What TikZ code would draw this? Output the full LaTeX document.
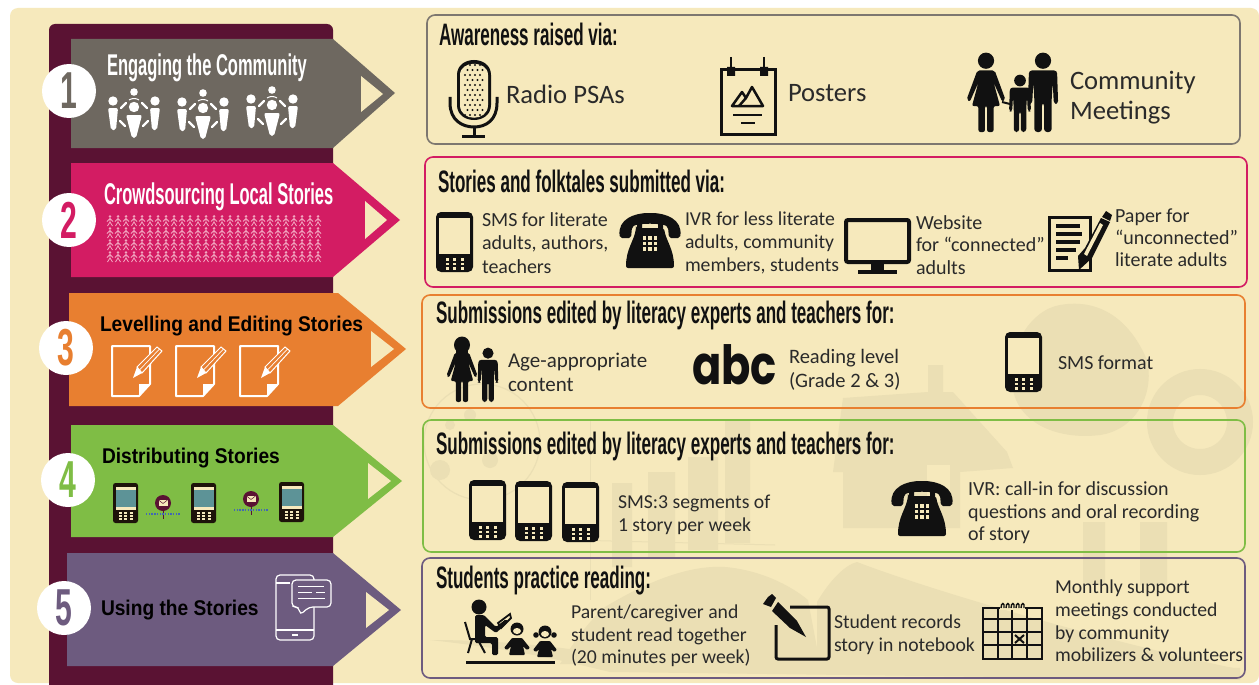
\documentclass[tikz,border=0pt]{standalone}
\usepackage{fontspec}
\setmainfont{Carlito}
\newfontfamily\headf[FakeStretch=0.55]{Liberation Sans}
\newfontfamily\numf[FakeStretch=0.58]{Liberation Sans}
\newfontfamily\titlef[FakeStretch=0.9]{Liberation Sans}
\newfontfamily\abcf[FakeStretch=0.8]{Poppins}
\definecolor{cream}{HTML}{F6E9BC}
\definecolor{wmark}{HTML}{EBDFB4}
\definecolor{band}{HTML}{5A1233}
\definecolor{cA}{HTML}{6E6860}
\definecolor{cB}{HTML}{D31C63}
\definecolor{cC}{HTML}{E87F30}
\definecolor{cD}{HTML}{7FBD45}
\definecolor{cE}{HTML}{6D5B7F}
\definecolor{pinkf}{HTML}{F2A6C0}
\definecolor{teal}{HTML}{5D9397}
\definecolor{ink}{HTML}{111111}
\definecolor{soft}{HTML}{2A2A2A}
\tikzset{
  x=1pt,y=-1pt,
  body/.style={anchor=west,inner sep=0pt,outer sep=0pt,align=left,text=soft},
  heading/.style={anchor=west,inner sep=0pt,outer sep=0pt,text=ink,font=\headf\bfseries\fontsize{31}{33}\selectfont},
  panel/.style={rounded corners=8pt,line width=1.6pt},
  numcircle/.style={circle,fill=white,minimum size=54pt,inner sep=0pt,font=\numf\bfseries\fontsize{52}{52}\selectfont},
  pics/mobile/.style={code={
    \fill[ink,rounded corners=5pt] (0,0) rectangle (37,60);
    \fill[cream] (2.7,6) rectangle (34.3,42);
    \foreach \i in {11,18.5,26}{\foreach \j in {47.5,52,56.5}{\fill[cream] (\i-1.5,\j-1.2) rectangle (\i+1.5,\j+1.2);}}
  }},
  pics/telephone/.style={code={
    \fill[ink,rounded corners=2pt] (0,25) .. controls (-3,6) and (15,0) .. (30,0) .. controls (45,0) and (63,6) .. (60,25) -- (49,25) -- (48,14) .. controls (42,10) and (18,10) .. (12,14) -- (11,25) -- cycle;
    \fill[ink] (17,9) rectangle (22,18) (38,9) rectangle (43,18);
    \fill[ink,rounded corners=2pt] (16,15) -- (44,15) .. controls (46,28) and (54,36) .. (54,55) -- (6,55) .. controls (6,36) and (14,28) .. (16,15) -- cycle;
    \foreach \i in {24.5,30,35.5}{\foreach \j in {25,30.5,36}{\fill[cream] (\i-1.7,\j-1.7) rectangle (\i+1.7,\j+1.7);}}
  }},
  pics/man/.style={code={
    \fill[ink] (0,-66) circle (7.5);
    \fill[ink,rounded corners=3pt] (-13,-57) -- (13,-57) -- (14,-26) -- (10,-26) -- (9,-46) -- (8,-30) -- (8,0) -- (1,0) -- (1,-27) -- (-1,-27) -- (-1,0) -- (-8,0) -- (-8,-30) -- (-9,-46) -- (-10,-26) -- (-14,-26) -- cycle;
  }},
  pics/woman/.style={code={
    \fill[ink] (0,-66) circle (7.5);
    \fill[ink,rounded corners=2pt] (-8,-57) -- (8,-57) -- (18,-30) -- (15,-28) -- (7,-46) -- (13,-24) -- (7,-24) -- (7,0) -- (1,0) -- (1,-24) -- (-1,-24) -- (-1,0) -- (-7,0) -- (-7,-24) -- (-13,-24) -- (-7,-46) -- (-15,-28) -- (-18,-30) -- cycle;
  }},
  pics/crowd/.style={code={
    \fill[white] (6,13) circle (4.7) (48,13) circle (4.7) (27,19) circle (5.2) (27,4) circle (3.8);
    \fill[white,rounded corners=2pt] (1,20) -- (11,20) -- (9,42) -- (4,42) -- cycle;
    \fill[white,rounded corners=2pt] (43,20) -- (53,20) -- (50,42) -- (45,42) -- cycle;
    \fill[white,rounded corners=2pt] (19,27) -- (35,27) -- (29,50) -- (25,50) -- cycle;
    \draw[white,line width=2.4pt,line cap=round] (14,20) -- (19,15) (40,20) -- (35,15) (13,33) -- (18,38) (41,33) -- (36,38);
    \draw[white,line width=1pt] (22,12) .. controls (25,10) and (29,10) .. (32,12);
  }},
  pics/docpen/.style={code={
    \draw[white,line width=2pt,line join=round] (0,0) -- (38,0) -- (38,38) -- (27,50) -- (0,50) -- cycle;
    \fill[white] (38,38) -- (27,38) -- (27,50) -- cycle;
    \fill[cC,draw=white,line width=1pt] (25,21) -- (45,1) -- (50,5) -- (30,27) -- cycle;
    \fill[white] (21,32) -- (25,21) -- (30,27) -- cycle;
    \draw[white,line width=.7pt] (27.5,24) -- (47.5,3);
  }},
  pics/minip/.style={code={
    \fill[black!85!brown,rounded corners=2.5pt] (0,0) rectangle (25,40);
    \fill[cream] (2.5,3.5) rectangle (22.5,6.5);
    \fill[teal] (2.5,6.5) rectangle (22.5,24);
    \fill[cream] (2.5,24) rectangle (22.5,27);
    \foreach \i in {7,12.5,18}{\foreach \j in {30,33,36}{\fill[cream] (\i-1.5,\j-.8) rectangle (\i+1.5,\j+.8);}}
  }},
  pics/pin/.style={code={
    \draw[band,line width=1pt] (0,0) -- (0,16);
    \fill[band] (0,0) circle (8);
    \fill[cream] (-4.5,-3) rectangle (4.5,3);
    \draw[band,line width=.5pt] (-4.5,-3) -- (0,.5) -- (4.5,-3);
    \draw[teal!70!blue,line width=1.4pt,dash pattern=on 1.4pt off 1.3pt] (-17,11) -- (17,11);
  }}
}
\begin{document}
\begin{tikzpicture}
\useasboundingbox (0,0) rectangle (1259,685);
\fill[white] (0,0) rectangle (1259,685);
\fill[cream,rounded corners=8pt] (10,8) rectangle (1259,683);

% watermark: globe, bars
\draw[wmark,line width=1.2pt] (482,442) circle (58);
\fill[wmark] (440,470) circle (10) (470,415) circle (6) (490,460) circle (8) (450,425) circle (5);
\fill[wmark] (612,483) rectangle (632,567) (648,472) rectangle (675,557) (688,457) rectangle (718,550) (725,420) rectangle (750,543);
\draw[wmark,line width=1pt] (570,540) -- (775,545);
\draw[wmark,line width=1pt] (590,420) -- (590,600);
% watermark: open book
\fill[wmark] (605,607) .. controls (650,580) and (690,565) .. (725,567) .. controls (760,570) and (790,585) .. (808,600) -- (820,664) -- (560,664) .. controls (575,640) and (590,620) .. (605,607) -- cycle;
\fill[wmark] (817,602) .. controls (830,580) and (845,565) .. (857,562) .. controls (930,590) and (1100,640) .. (1233,668) -- (817,668) -- cycle;
\fill[wmark] (430,640) .. controls (520,650) and (560,660) .. (610,672) -- (1240,680) -- (1240,668) .. controls (1000,660) and (800,660) .. (610,655) .. controls (550,645) and (490,640) .. (430,640) -- cycle;
% watermark: house
\fill[wmark] (928,392) -- (928,365) -- (943,365) -- (943,392) -- (953,392) -- (1007,452) -- (1013,468) -- (960,472) -- (960,528) -- (843,528) -- (843,472) -- (833,472) -- (843,398) -- cycle;
\fill[cream] (927,465) rectangle (950,502);
% watermark: tree crown, trunks, O
\fill[wmark] (1013,390) .. controls (1005,350) and (1030,310) .. (1060,305) .. controls (1100,298) and (1130,320) .. (1147,360) .. controls (1155,395) and (1135,430) .. (1100,435) .. controls (1060,440) and (1020,425) .. (1013,390) -- cycle;
\fill[wmark] (1083,522) rectangle (1105,585) (1140,522) rectangle (1167,585);
\draw[wmark,line width=26pt] (1200,422) circle (40);

% band
\fill[band,rounded corners=6pt] (49,24) -- (333,24) -- (333,700) -- (49,700) -- cycle;

% arrows
\fill[cA] (71,39) -- (333,39) -- (395,93) -- (333,148) -- (71,148) -- cycle;
\fill[cream] (361,76) -- (383,94) -- (361,112) -- cycle;
\fill[cB] (71,163) -- (333,163) -- (400,220) -- (333,277) -- (71,277) -- cycle;
\fill[cream] (365,201) -- (387,220) -- (365,239) -- cycle;
\fill[cC] (69,293) -- (338,293) -- (406,349) -- (338,406) -- (69,406) -- cycle;
\fill[cream] (371,331) -- (394,349) -- (371,367) -- cycle;
\fill[cD] (71,425) -- (333,425) -- (402,481) -- (333,537) -- (71,537) -- cycle;
\fill[cream] (368,463) -- (391,481) -- (368,499) -- cycle;
\fill[cE] (67,553) -- (333,553) -- (401,610) -- (333,666) -- (67,666) -- cycle;
\fill[cream] (366,592) -- (389,610) -- (366,628) -- cycle;

% number circles
\node[numcircle,text=cA] (n1) at (69,91) {1};
\node[numcircle,text=cB] (n2) at (69,220) {2};
\node[numcircle,text=cC] (n3) at (66,348) {3};
\node[numcircle,text=cD] (n4) at (68,480) {4};
\node[numcircle,text=cE] (n5) at (64,608) {5};

% arrow titles
\node[heading,text=white,font=\headf\bfseries\fontsize{30}{32}\selectfont] (a1) at (107,68) {Engaging the Community};
\node[heading,text=white,font=\headf\bfseries\fontsize{30}{32}\selectfont] (a2) at (104,197) {Crowdsourcing Local Stories};
\node[heading,text=black,font=\titlef\bfseries\fontsize{21.3}{23}\selectfont] (a3) at (100,326) {Levelling and Editing Stories};
\node[heading,text=black,font=\titlef\bfseries\fontsize{21.3}{23}\selectfont] (a4) at (102,458) {Distributing Stories};
\node[heading,text=black,font=\titlef\bfseries\fontsize{21.3}{23}\selectfont] (a5) at (101,610) {Using the Stories};

% arrow icons
\pic at (107,88) {crowd};
\pic at (176,89) {crowd};
\pic at (245,86) {crowd};
\foreach \r in {221,233,245,257}{
  \foreach \c in {0,...,26}{
    \pgfmathsetmacro{\xx}{110+8*\c}
    \fill[pinkf] (\xx,\r-4.6) circle (1.4);
    \draw[pinkf,line width=.8pt] (\xx,\r-3) -- (\xx,\r+1) -- (\xx-2.5,\r+5) (\xx,\r+1) -- (\xx+2.5,\r+5) (\xx-3,\r+.5) -- (\xx,\r-2.5) -- (\xx+3,\r+.5);
  }
}
\pic at (112,346) {docpen};
\pic at (176,346) {docpen};
\pic at (240,346) {docpen};
\pic at (113,483) {minip};
\pic at (191,483) {minip};
\pic at (279,482) {minip};
\pic at (163,503) {pin};
\pic at (251,499) {pin};

% tablet + chat (row 5)
\draw[white,line width=1.2pt,rounded corners=4pt] (276,575) rectangle (314,640);
\draw[white,line width=1.2pt] (276,583) -- (290,583) (276,630) -- (314,630) (292,635) -- (298,635);
\fill[cE,rounded corners=4pt] (292,580) rectangle (331,607);
\draw[white,line width=1.2pt,rounded corners=4pt] (299,607) -- (292,607) -- (292,580) -- (331,580) -- (331,607) -- (309,607) -- (300,615) -- cycle;
\draw[white,line width=1pt] (298,586) -- (324,586) (298,592) -- (312,592) (316,592) -- (325,592) (298,598) -- (325,598);

% panels
\draw[panel,draw=cA!90!white] (427,15) rectangle (1240,144);
\draw[panel,draw=cB] (425,157) rectangle (1247,287);
\draw[panel,draw=cC] (422,295) rectangle (1245,408);
\draw[panel,draw=cD] (423,420) rectangle (1245,552);
\draw[panel,draw=cE] (422,558) rectangle (1245,678);

% headings
\node[heading] (h1) at (439,34) {Awareness raised via:};
\node[heading] (h2) at (438,181) {Stories and folktales submitted via:};
\node[heading] (h3) at (436,315) {Submissions edited by literacy experts and teachers for:};
\node[heading] (h4) at (436,446) {Submissions edited by literacy experts and teachers for:};
\node[heading] (h5) at (436,581) {Students practice reading:};

% panel 1 text
\node[body,font=\fontsize{26.6}{30}\selectfont] (t1) at (506,94) {Radio PSAs};
\node[body,font=\fontsize{26.6}{30}\selectfont] (t2) at (788,93) {Posters};
\node[body,font=\fontsize{26.6}{30}\selectfont] (t3) at (1070,98) {Community\\Meetings};

% panel 2 text
\node[body,font=\fontsize{20}{23.5}\selectfont] (t4) at (482,243) {SMS for literate\\adults, authors,\\teachers};
\node[body,font=\fontsize{19.7}{23}\selectfont] (t5) at (685,243) {IVR for less literate\\adults, community\\members, students};
\node[body,font=\fontsize{20}{22.5}\selectfont] (t6) at (916,245) {Website\\for ``connected''\\adults};
\node[body,font=\fontsize{20}{22}\selectfont] (t7) at (1115,238) {Paper for\\``unconnected''\\literate adults};

% panel 3 text
\node[body,font=\fontsize{21}{24}\selectfont] (t8) at (508,372) {Age-appropriate\\content};
\node[body,font=\fontsize{20.5}{24}\selectfont] (t9) at (789,370) {Reading level\\(Grade 2 \& 3)};
\node[body,font=\fontsize{20}{24}\selectfont] (t10) at (1058,363) {SMS format};
\node[body,text=ink,font=\abcf\bfseries\fontsize{54}{56}\selectfont] (abc) at (692,365) {abc};

% panel 4 text
\node[body,font=\fontsize{19.7}{22.5}\selectfont] (t11) at (618,515) {SMS:3 segments of\\1 story per week};
\node[body,font=\fontsize{20}{22.5}\selectfont] (t12) at (968,513) {IVR: call-in for discussion\\questions and oral recording\\of story};

% panel 5 text
\node[body,font=\fontsize{19.7}{22.5}\selectfont] (t13) at (571,636) {Parent/caregiver and\\student read together\\(20 minutes per week)};
\node[body,font=\fontsize{19.7}{23}\selectfont] (t14) at (834,635) {Student records\\story in notebook};
\node[body,font=\fontsize{19.7}{22.7}\selectfont] (t15) at (1055,621) {Monthly support\\meetings conducted\\by community\\mobilizers \& volunteers};

% --- microphone
\fill[ink] (457,75) .. controls (457,55) and (491,55) .. (491,75) -- (491,105) .. controls (491,125) and (457,125) .. (457,105) -- cycle;
\fill[cream] (460,75) .. controls (460,60) and (488,60) .. (488,75) -- (488,105) .. controls (488,122) and (460,122) .. (460,105) -- cycle;
\foreach \j [count=\k] in {65,70,75,80,85,90,95,100,105,110,115}{
  \pgfmathsetmacro{\off}{mod(\k,2)==0 ? 2.5 : 0}
  \foreach \i in {465,470,...,483}{\fill[ink] (\i+\off,\j) circle (1.2);}
}
\draw[ink,line width=3pt] (450,97) -- (450,103) .. controls (450,120) and (462,127) .. (474,127) .. controls (486,127) and (497,120) .. (497,103) -- (497,97);
\draw[ink,line width=3pt] (474,127) -- (474,137);
\fill[ink] (462,135) rectangle (485,138);

% --- poster
\draw[ink,line width=3pt] (721.5,70) rectangle (775.5,134);
\draw[ink,line width=2.5pt] (731,57) -- (731,72) (764,57) -- (764,72);
\fill[ink] (727,67) rectangle (735,76) (760,67) rectangle (768,76);
\draw[ink,line width=2.5pt,line join=round] (732,106) -- (742,92) -- (746,98) -- (752,87) -- (763,106) -- cycle;
\draw[ink,line width=2.5pt] (746,98) -- (739,106);
\draw[ink,line width=2.5pt] (733,115) -- (762,115);
\draw[ink,line width=2.5pt] (741,123) -- (755,123);

% --- family
\pic[scale=1.08] at (986,132) {woman};
\pic[scale=.78] at (1020,132) {man};
\pic[scale=1.08] at (1043,132) {man};
\draw[ink,line width=2pt] (1002,102) -- (1010,104);

% --- panel 2 icons
\pic at (436,212) {mobile};
\pic at (620,213) {telephone};
\draw[ink,line width=4pt,rounded corners=2pt] (846,220) rectangle (909,262);
\fill[ink] (871,262) rectangle (884,270);
\fill[ink] (858,270) rectangle (897,274);
\draw[ink,line width=3pt] (1049.5,217) rectangle (1090,270);
\foreach \j/\w in {226/1080,234/1082,242/1080,250/1076,258/1068}{\draw[ink,line width=3.5pt] (1056,\j) -- (\w,\j);}
\fill[ink] (1078,256) -- (1079,270) -- (1092,258) -- (1110,222) -- (1101,218) -- (1085,248) -- cycle;
\fill[cream] (1084,254) -- (1087,256) -- (1103,225) -- (1100,223) -- cycle;
\fill[ink] (1102,217) -- (1106,211) -- (1112,215) -- (1110,221) -- cycle;

% --- panel 3 icons
\fill[ink] (462,345) ellipse (8 and 8.5);
\fill[ink] (456,345) rectangle (468,354);
\pic[scale=.87] at (462,402) {woman};
\pic[scale=.74] at (488,402) {man};
\pic at (1005,332) {mobile};

% --- panel 4 icons
\pic at (469,480) {mobile};
\pic at (515,481) {mobile};
\pic at (562,482) {mobile};
\pic at (892,481) {telephone};

% --- teacher + kids
\fill[ink] (479,607) circle (7.5);
\fill[ink,rounded corners=1.5pt] (475,615) -- (484,615) -- (496,627) -- (506,619) -- (508,622) -- (496,633) -- (485,625) -- (485,637) -- (498,637) -- (498,655) -- (492,655) -- (492,643) -- (475,643) -- cycle;
\draw[ink,line width=1.8pt] (498,623) -- (510,614) -- (511,618) -- (501,628) -- cycle;
\draw[ink,line width=2pt] (465,622) -- (470,639) -- (485,639) (472,639) -- (468,653) (478,640) -- (485,653);
\fill[ink] (466,660.5) rectangle (555,663.5);
% kid 1
\fill[ink] (517,629) circle (6.5);
\fill[cream] (517,631) ellipse (4 and 3);
\fill[ink,rounded corners=1pt] (512,638) -- (522,638) -- (530,648) -- (527,650) -- (523,646) -- (525,655) -- (509,655) -- (511,646) -- (507,650) -- (504,648) -- cycle;
% kid 2
\fill[ink] (545,632) circle (6.5);
\fill[ink] (536,635) circle (2.8) (554,635) circle (2.8);
\fill[cream] (545,634) ellipse (4 and 3);
\fill[ink,rounded corners=1pt] (540,641) -- (550,641) -- (557,650) -- (554,652) -- (551,649) -- (553,657) -- (537,657) -- (539,649) -- (536,652) -- (533,650) -- cycle;

% --- notebook + pen
\draw[ink,line width=3pt,rounded corners=2pt] (790,607) -- (829,607) -- (829,659) -- (776,659) -- (776,625);
\fill[ink] (763,604) -- (768,597) -- (772,594) -- (776,598) -- (771,607) -- cycle;
\fill[ink] (772,611) -- (778,602) -- (797,621) -- (806,637) -- (790,628) -- cycle;

% --- calendar
\draw[ink,line width=2.5pt] (983,608) rectangle (1042,659);
\draw[ink,line width=2pt] (983,619) -- (1042,619) (983,632) -- (1042,632) (983,645) -- (1042,645);
\draw[ink,line width=2pt] (998,608) -- (998,659) (1012,608) -- (1012,659) (1027,608) -- (1027,659);
\fill[cream] (1000,602) rectangle (1025,610);
\foreach \i in {1003,1008,1013,1018,1023}{\draw[ink,line width=1.4pt] (\i-2,608) .. controls (\i-2,602) and (\i+2,602) .. (\i+1,608);}
\draw[ink,line width=2pt] (1015,635) -- (1024,643) (1024,635) -- (1015,643);
\end{tikzpicture}
\end{document}
